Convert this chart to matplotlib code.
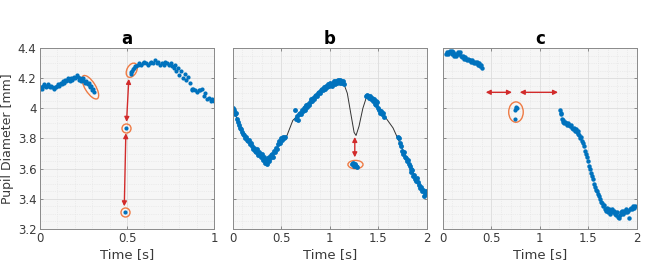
import matplotlib
matplotlib.use("Agg")
import matplotlib.pyplot as plt
from matplotlib.patches import Ellipse
from matplotlib.ticker import MultipleLocator

# ---------------- data ----------------
a_t1 = [0.00, 0.006, 0.012, 0.018, 0.024, 0.03, 0.036, 0.042, 0.048, 0.054, 0.06, 0.066, 0.072, 0.078,
        0.084, 0.09, 0.096, 0.102, 0.108, 0.114, 0.12, 0.126, 0.132, 0.138, 0.144, 0.15, 0.156, 0.162,
        0.168, 0.174, 0.18, 0.186, 0.192, 0.198, 0.204, 0.21, 0.216, 0.222, 0.228, 0.234, 0.24, 0.246,
        0.252, 0.258, 0.264, 0.27, 0.275, 0.28, 0.285, 0.29, 0.295, 0.30, 0.305, 0.31]
a_v1 = [4.13, 4.14, 4.13, 4.15, 4.16, 4.15, 4.14, 4.15, 4.16, 4.15, 4.14, 4.15, 4.14, 4.13,
        4.14, 4.14, 4.15, 4.16, 4.15, 4.16, 4.17, 4.16, 4.18, 4.17, 4.19, 4.18, 4.19, 4.20,
        4.19, 4.18, 4.20, 4.19, 4.20, 4.21, 4.20, 4.22, 4.21, 4.19, 4.20, 4.18, 4.19, 4.20,
        4.18, 4.17, 4.18, 4.17, 4.16, 4.17, 4.15, 4.14, 4.15, 4.12, 4.13, 4.11]
a_t_single = [0.489, 0.496]
a_v_single = [3.31, 3.868]
a_t2 = [0.520, 0.525, 0.530, 0.535, 0.540, 0.545, 0.55, 0.56, 0.57, 0.58, 0.59, 0.60, 0.61, 0.62,
        0.63, 0.64, 0.65, 0.66, 0.67, 0.68, 0.69, 0.70, 0.71, 0.72, 0.73, 0.74, 0.75, 0.76, 0.77,
        0.775, 0.78, 0.79, 0.80, 0.81, 0.82, 0.83, 0.84, 0.85, 0.86, 0.87, 0.875, 0.88, 0.89, 0.90,
        0.91, 0.92, 0.93, 0.94, 0.95, 0.96, 0.97, 0.98, 0.99, 1.00]
a_v2 = [4.23, 4.24, 4.25, 4.26, 4.27, 4.28, 4.28, 4.29, 4.30, 4.29, 4.30, 4.31, 4.30, 4.29,
        4.30, 4.31, 4.30, 4.32, 4.30, 4.31, 4.29, 4.30, 4.29, 4.31, 4.30, 4.29, 4.30, 4.28, 4.27,
        4.29, 4.25, 4.27, 4.22, 4.25, 4.20, 4.23, 4.19, 4.21, 4.17, 4.13, 4.12, 4.13, 4.12, 4.11,
        4.12, 4.12, 4.13, 4.08, 4.10, 4.06, 4.07, 4.05, 4.06, 4.05]

b_t = [0.00, 0.01, 0.02, 0.03, 0.04, 0.05, 0.06, 0.07, 0.08, 0.09, 0.10, 0.11, 0.12, 0.13, 0.14,
       0.15, 0.16, 0.17, 0.18, 0.19, 0.20, 0.21, 0.22, 0.23, 0.24, 0.25, 0.26, 0.27, 0.28, 0.29,
       0.30, 0.31, 0.32, 0.33, 0.34, 0.35, 0.36, 0.37, 0.38, 0.39, 0.40, 0.41, 0.42, 0.43, 0.44,
       0.45, 0.46, 0.47, 0.48, 0.49, 0.50, 0.51, 0.52, 0.53, 0.54,
       0.64, 0.65, 0.66, 0.67, 0.68, 0.69, 0.70, 0.71, 0.72, 0.73, 0.74, 0.75, 0.76, 0.77, 0.78,
       0.79, 0.80, 0.81, 0.82, 0.83, 0.84, 0.85, 0.86, 0.87, 0.88, 0.89, 0.90, 0.91, 0.92, 0.93,
       0.94, 0.95, 0.96, 0.97, 0.98, 0.99, 1.00, 1.01, 1.02, 1.03, 1.04, 1.05, 1.06, 1.07, 1.08,
       1.09, 1.10, 1.11, 1.12, 1.13, 1.14, 1.15,
       1.23, 1.24, 1.25, 1.26, 1.27, 1.28,
       1.37, 1.38, 1.39, 1.40, 1.41, 1.42, 1.43, 1.44, 1.45, 1.46, 1.47, 1.48, 1.49, 1.50, 1.51,
       1.52, 1.53, 1.54, 1.55, 1.56,
       1.70, 1.71, 1.72, 1.73, 1.74, 1.75, 1.76, 1.77, 1.78, 1.79, 1.80, 1.81, 1.82, 1.83, 1.84,
       1.85, 1.86, 1.87, 1.88, 1.89, 1.90, 1.91, 1.92, 1.93, 1.94, 1.95, 1.96, 1.97, 1.98, 1.99, 2.00]
b_v = [4.00, 3.98, 3.99, 3.96, 3.97, 3.93, 3.91, 3.89, 3.87, 3.86, 3.84, 3.83, 3.82, 3.80, 3.81,
       3.79, 3.78, 3.79, 3.76, 3.77, 3.75, 3.73, 3.74, 3.72, 3.71, 3.73, 3.69, 3.71, 3.70, 3.68,
       3.70, 3.66, 3.68, 3.64, 3.66, 3.63, 3.67, 3.65, 3.68, 3.67, 3.69, 3.70, 3.68, 3.72, 3.71,
       3.74, 3.73, 3.76, 3.78, 3.77, 3.80, 3.79, 3.81, 3.80, 3.81,
       3.99, 3.93, 3.95, 3.92, 3.96, 3.97, 3.96, 3.99, 3.98, 4.00, 4.01, 3.99, 4.02, 4.01, 4.03,
       4.02, 4.04, 4.06, 4.05, 4.07, 4.06, 4.08, 4.09, 4.08, 4.10, 4.11, 4.10, 4.12, 4.13, 4.12,
       4.14, 4.13, 4.15, 4.14, 4.16, 4.15, 4.17, 4.16, 4.15, 4.17, 4.18, 4.16, 4.18, 4.17, 4.19,
       4.18, 4.17, 4.19, 4.18, 4.17, 4.18, 4.16,
       3.63, 3.64, 3.62, 3.63, 3.62, 3.61,
       4.08, 4.09, 4.08, 4.07, 4.08, 4.06, 4.07, 4.05, 4.06, 4.03, 4.05, 4.02, 4.04, 4.00, 3.99,
       3.97, 3.98, 3.96, 3.97, 3.94,
       3.81, 3.80, 3.77, 3.75, 3.72, 3.70, 3.71, 3.68, 3.67, 3.65, 3.66, 3.63, 3.62, 3.60, 3.58,
       3.59, 3.55, 3.56, 3.53, 3.52, 3.54, 3.51, 3.49, 3.47, 3.48, 3.45, 3.46, 3.42, 3.44, 3.45, 3.43]
b_fit_t = [0.0, 0.1, 0.2, 0.3, 0.36, 0.42, 0.5, 0.56, 0.62, 0.7, 0.8, 0.9, 1.0, 1.08, 1.14, 1.18,
           1.22, 1.25, 1.27, 1.30, 1.34, 1.38, 1.45, 1.55, 1.65, 1.72, 1.8, 1.9, 2.0]
b_fit_v = [4.00, 3.85, 3.75, 3.69, 3.66, 3.70, 3.78, 3.82, 3.92, 3.97, 4.04, 4.11, 4.16, 4.18, 4.17,
           4.10, 3.95, 3.84, 3.82, 3.88, 4.00, 4.08, 4.05, 3.96, 3.87, 3.77, 3.65, 3.52, 3.43]

c_t1 = [0.03, 0.04, 0.05, 0.06, 0.07, 0.08, 0.09, 0.10, 0.11, 0.12, 0.13, 0.14, 0.15, 0.16, 0.17,
        0.18, 0.19, 0.20, 0.21, 0.22, 0.23, 0.24, 0.25, 0.26, 0.27, 0.28, 0.29, 0.30, 0.31, 0.32,
        0.33, 0.34, 0.35, 0.36, 0.37, 0.38, 0.39, 0.40]
c_v1 = [4.36, 4.37, 4.36, 4.37, 4.38, 4.37, 4.38, 4.36, 4.37, 4.35, 4.36, 4.35, 4.36, 4.37, 4.36,
        4.37, 4.35, 4.34, 4.35, 4.33, 4.34, 4.33, 4.32, 4.33, 4.32, 4.32, 4.31, 4.32, 4.31, 4.30,
        4.31, 4.30, 4.31, 4.29, 4.30, 4.28, 4.29, 4.27]
c_t_mid = [0.75, 0.755, 0.76, 0.765, 0.745]
c_v_mid = [3.99, 4.00, 4.01, 4.00, 3.93]
c_t2 = [1.21, 1.215, 1.22, 1.23, 1.24, 1.245, 1.25, 1.26, 1.27, 1.28, 1.29, 1.30, 1.31, 1.32, 1.33,
        1.34, 1.35, 1.36, 1.37, 1.38, 1.39, 1.40, 1.41, 1.42, 1.43, 1.44, 1.45, 1.46, 1.47, 1.48,
        1.49, 1.50, 1.51, 1.52, 1.53, 1.54, 1.55, 1.56, 1.57, 1.58, 1.59, 1.60, 1.61, 1.62, 1.63,
        1.64, 1.65, 1.66, 1.67, 1.68, 1.69, 1.70, 1.71, 1.72, 1.73, 1.74, 1.75, 1.76, 1.77, 1.78,
        1.79, 1.80, 1.81, 1.82, 1.83, 1.84, 1.85, 1.86, 1.87, 1.88, 1.89, 1.90, 1.91, 1.92, 1.93,
        1.94, 1.95, 1.96, 1.97, 1.98]
c_v2 = [3.99, 3.97, 3.96, 3.93, 3.91, 3.92, 3.90, 3.91, 3.90, 3.89, 3.90, 3.89, 3.88, 3.89, 3.87,
        3.86, 3.87, 3.85, 3.86, 3.84, 3.85, 3.83, 3.82, 3.80, 3.81, 3.78, 3.77, 3.75, 3.72, 3.70,
        3.68, 3.65, 3.62, 3.60, 3.57, 3.55, 3.53, 3.50, 3.48, 3.46, 3.45, 3.43, 3.42, 3.40, 3.38,
        3.37, 3.35, 3.36, 3.33, 3.32, 3.34, 3.31, 3.33, 3.32, 3.30, 3.32, 3.33, 3.31, 3.32, 3.30,
        3.29, 3.31, 3.28, 3.27, 3.29, 3.31, 3.32, 3.30, 3.32, 3.31, 3.33, 3.31, 3.32, 3.27, 3.33,
        3.34, 3.33, 3.35, 3.34, 3.35]

titles = ["a", "b", "c"]
xlims = [(0, 1), (0, 2), (0, 2)]
xticks_a = [0, 0.5, 1]
xticks_bc = [0, 0.5, 1, 1.5, 2]
xticklabels_a = ["0", "0.5", "1"]
xticklabels_bc = ["0", "0.5", "1", "1.5", "2"]
yticks = [3.2, 3.4, 3.6, 3.8, 4.0, 4.2, 4.4]
yticklabels = ["3.2", "3.4", "3.6", "3.8", "4", "4.2", "4.4"]

# ---------------- style ----------------
BLUE = "#0072BD"
ORANGE = "#EE7B45"
RED = "#D22B2B"
GRAY_TXT = "#3a3a3a"

plt.rcParams["font.family"] = ["DejaVu Sans"]
fig = plt.figure(figsize=(6.55, 2.65), dpi=100)
bottom, height = 0.136, 0.683
axes = [fig.add_axes([0.061, bottom, 0.266, height]),
        fig.add_axes([0.355, bottom, 0.297, height]),
        fig.add_axes([0.676, bottom, 0.296, height])]

for i, ax in enumerate(axes):
    ax.set_facecolor("#f6f6f6")
    ax.set_xlim(*xlims[i])
    ax.set_ylim(3.2, 4.4)
    ax.set_yticks(yticks)
    if i == 0:
        ax.set_xticks(xticks_a)
        ax.set_xticklabels(xticklabels_a)
        ax.set_yticklabels(yticklabels)
        ax.set_ylabel("Pupil Diameter [mm]", fontsize=9, color=GRAY_TXT)
        ax.yaxis.set_label_coords(-0.15, 0.5)
    else:
        ax.set_xticks(xticks_bc)
        ax.set_xticklabels(xticklabels_bc)
        ax.set_yticklabels([])
    ax.xaxis.set_minor_locator(MultipleLocator(0.1))
    ax.yaxis.set_minor_locator(MultipleLocator(0.05))
    ax.grid(True, which="major", color="#dcdcdc", linewidth=0.6)
    ax.grid(True, which="minor", color="#e2e2e2", linewidth=0.5, linestyle=":")
    ax.set_axisbelow(True)
    ax.tick_params(which="both", direction="in", length=2.5, width=0.5, color="#666666",
                   labelsize=8.5, labelcolor=GRAY_TXT, top=True, right=True, pad=2.5)
    ax.tick_params(which="minor", length=0)
    for s in ax.spines.values():
        s.set_color("#8a8a8a")
        s.set_linewidth(0.7)
    ax.set_xlabel("Time [s]", fontsize=9.5, color=GRAY_TXT, labelpad=2)
    ax.set_title(titles[i], fontsize=12, fontweight="bold", pad=3)

ms = 3.0
# ---- panel a ----
ax = axes[0]
ax.plot(a_t1, a_v1, "o", color=BLUE, ms=ms, mec="none")
ax.plot(a_t2, a_v2, "o", color=BLUE, ms=ms, mec="none")
ax.plot(a_t_single, a_v_single, "o", color=BLUE, ms=ms, mec="none")
ax.plot(a_t_single, a_v_single, "o", mfc="none", mec=ORANGE, ms=6.5, mew=1.0)
ax.add_patch(Ellipse((0.289, 0.783), 0.15, 0.06, angle=-57, transform=ax.transAxes,
                     fill=False, ec=ORANGE, lw=1.0))
ax.add_patch(Ellipse((0.527, 0.877), 0.085, 0.055, angle=60, transform=ax.transAxes,
                     fill=False, ec=ORANGE, lw=1.0))
arrow = dict(arrowstyle="<|-|>", color=RED, lw=1.0, mutation_scale=7, shrinkA=0, shrinkB=0)
ax.annotate("", xy=(0.497, 3.91), xytext=(0.51, 4.195), arrowprops=arrow)
ax.annotate("", xy=(0.484, 3.35), xytext=(0.493, 3.835), arrowprops=arrow)

# ---- panel b ----
ax = axes[1]
ax.plot(b_fit_t, b_fit_v, "-", color="#333333", lw=0.7)
ax.plot(b_t, b_v, "o", color=BLUE, ms=ms + 0.5, mec="none")
ax.add_patch(Ellipse((1.264, 3.627), 0.155, 0.055, fill=False, ec=ORANGE, lw=1.0))
ax.annotate("", xy=(1.257, 3.675), xytext=(1.257, 3.81), arrowprops=arrow)

# ---- panel c ----
ax = axes[2]
ax.plot(c_t1, c_v1, "o", color=BLUE, ms=ms + 0.2, mec="none")
ax.plot(c_t_mid, c_v_mid, "o", color=BLUE, ms=ms, mec="none")
ax.plot(c_t2, c_v2, "o", color=BLUE, ms=ms + 0.2, mec="none")
ax.add_patch(Ellipse((0.755, 3.975), 0.15, 0.135, fill=False, ec=ORANGE, lw=1.0))
ax.annotate("", xy=(0.443, 4.106), xytext=(0.714, 4.106), arrowprops=arrow)
ax.annotate("", xy=(0.794, 4.106), xytext=(1.189, 4.106), arrowprops=arrow)

fig.savefig("out.png", dpi=100)
